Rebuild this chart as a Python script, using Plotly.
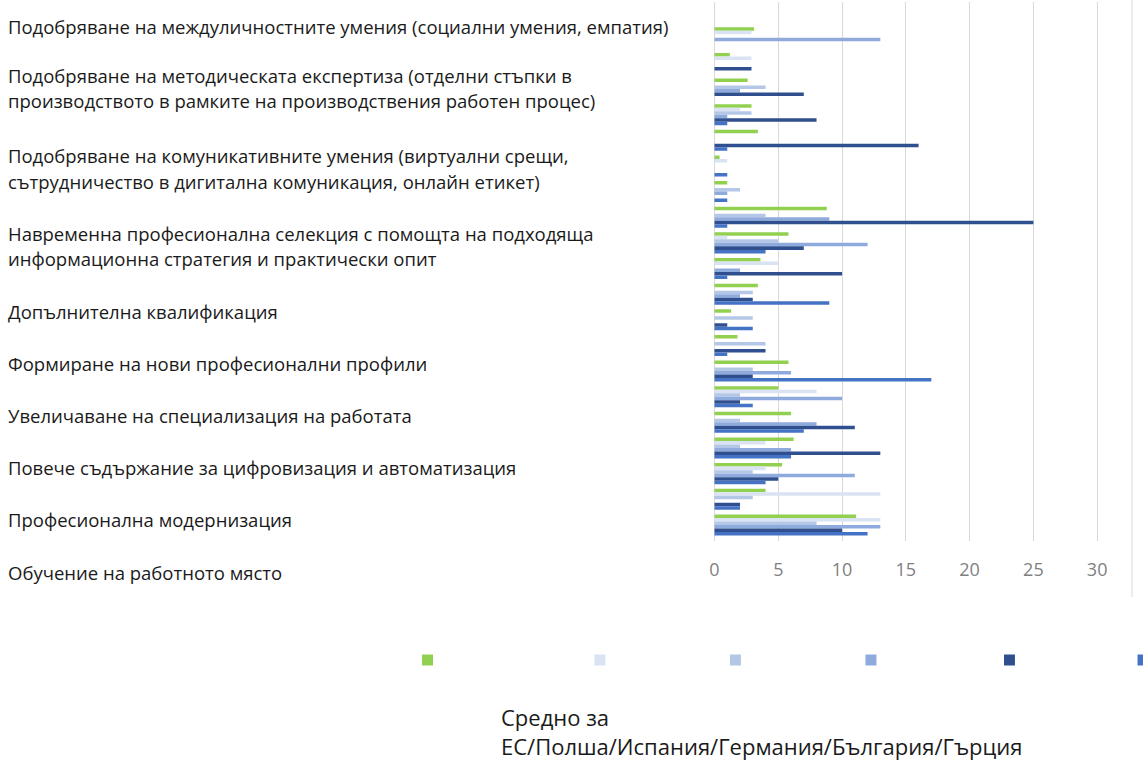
import plotly.graph_objects as go

# ---------------- data ----------------
categories = list(range(20))  # 20 bar groups (top to bottom)

series_names = ["", "", "", "", "", ""]
series_colors = ["#92D050", "#DAE3F3", "#B4C7E7", "#8FAADC", "#2F4F8F", "#4472C4"]

s1 = [3.1, 1.2, 2.6, 2.9, 3.4, 0.4, 1.0, 8.8, 5.8, 3.6, 3.4, 1.3, 1.8, 5.8, 5.0, 6.0, 6.2, 5.3, 4.0, 11.1]
s2 = [2.9, 2.9, 0, 2.0, 0, 1.0, 0, 0, 1.0, 5.0, 0, 0, 0, 0, 8.0, 0, 4.0, 4.0, 13.0, 13.0]
s3 = [0, 0, 4.0, 2.9, 0, 0, 2.0, 4.0, 5.0, 0, 3.0, 3.0, 4.0, 3.0, 2.0, 2.0, 2.0, 3.0, 3.0, 8.0]
s4 = [13.0, 0, 2.0, 1.0, 0, 0, 1.0, 9.0, 12.0, 2.0, 2.0, 0, 0, 6.0, 10.0, 8.0, 6.0, 11.0, 0, 13.0]
s5 = [0, 2.9, 7.0, 8.0, 16.0, 0, 0, 25.0, 7.0, 10.0, 3.0, 1.0, 4.0, 3.0, 2.0, 11.0, 13.0, 5.0, 2.0, 10.0]
s6 = [0, 0, 0, 1.0, 1.0, 1.0, 1.0, 1.0, 4.0, 1.0, 9.0, 3.0, 1.0, 17.0, 3.0, 7.0, 6.0, 4.0, 2.0, 12.0]
series_values = [s1, s2, s3, s4, s5, s6]

x_ticks = [0, 5, 10, 15, 20, 25, 30]

label_lines = [
    ["Подобряване на междуличностните умения (социални умения, емпатия)"],
    ["Подобряване на методическата експертиза (отделни стъпки в",
     "производството в рамките на производствения работен процес)"],
    ["Подобряване на комуникативните умения (виртуални срещи,",
     "сътрудничество в дигитална комуникация, онлайн етикет)"],
    ["Навременна професионална селекция с помощта на подходяща",
     "информационна стратегия и практически опит"],
    ["Допълнителна квалификация"],
    ["Формиране на нови професионални профили"],
    ["Увеличаване на специализация на работата"],
    ["Повече съдържание за цифровизация и автоматизация"],
    ["Професионална модернизация"],
    ["Обучение на работното място"],
]

bottom_title = ["Средно за", "ЕС/Полша/Испания/Германия/България/Гърция"]

# ---------------- layout helpers (pixels -> paper) ----------------
W, H = 1143, 769
px_per_unit = 12.8
x_zero_px = 713
grp_px = 25.64
grp0_center_px = 37.75
plot_top_px, plot_bot_px = 2, 541

def px(x):
    return x / W

def py(y):
    return 1 - y / H

x_lo, x_hi = -0.1, 32.7
x_dom = [px(x_zero_px + x_lo * px_per_unit), px(x_zero_px + x_hi * px_per_unit)]
y_top_val = (plot_top_px - grp0_center_px) / grp_px
y_bot_val = (plot_bot_px - grp0_center_px) / grp_px

fig = go.Figure()
for name, vals, col in zip(series_names, series_values, series_colors):
    fig.add_trace(go.Bar(
        y=categories, x=vals, orientation="h", name=name,
        marker=dict(color=col, line=dict(width=0)),
        hoverinfo="x",
    ))

# left category labels
label_line_px = [[27], [75, 101], [155, 181], [233, 259], [311], [363], [415], [467], [519], [572]]
annotations = []
for lines, ys in zip(label_lines, label_line_px):
    for t, yy in zip(lines, ys):
        annotations.append(dict(
            text=t, x=px(2), y=py(yy), xref="paper", yref="paper",
            xanchor="left", yanchor="middle", showarrow=False,
            font=dict(family="Open Sans", size=18.5, color="#1A1A1A"),
        ))

annotations.append(dict(
    text="<br>".join(bottom_title),
    x=px(497), y=py(731), xref="paper", yref="paper", align="left",
    xanchor="left", yanchor="middle", showarrow=False,
    font=dict(family="Open Sans", size=22, color="#1A1A1A"),
))

shapes = []
# chart-area right border
shapes.append(dict(type="line", xref="paper", yref="paper",
                   x0=px(1132), x1=px(1132), y0=py(0), y1=py(597),
                   line=dict(color="#D9D9D9", width=1)))
# legend keys (series have no names)
legend_centers = [425, 598, 734, 870, 1009, 1143]
for cx, col in zip(legend_centers, series_colors):
    shapes.append(dict(type="rect", xref="paper", yref="paper",
                       x0=px(cx - 5.5), x1=px(cx + 5.5), y0=py(665.5), y1=py(654.5),
                       fillcolor=col, line=dict(width=0)))

fig.update_layout(
    width=W, height=H,
    margin=dict(l=0, r=0, t=0, b=0),
    paper_bgcolor="white", plot_bgcolor="white",
    barmode="group", bargap=0.18, bargroupgap=0,
    showlegend=False,
    annotations=annotations, shapes=shapes,
    xaxis=dict(domain=x_dom, range=[x_lo, x_hi], tickvals=x_ticks,
               showgrid=True, gridcolor="#D9D9D9", gridwidth=1,
               zeroline=True, zerolinecolor="#D9D9D9", zerolinewidth=1,
               showline=False, ticks="outside", ticklen=12, tickcolor="rgba(0,0,0,0)",
               tickfont=dict(family="Open Sans", size=18, color="#7F7F7F")),
    yaxis=dict(domain=[py(plot_bot_px), py(plot_top_px)], range=[y_bot_val, y_top_val],
               showticklabels=False, showgrid=False, zeroline=False, showline=False),
)

fig.write_html("out.html", config={"displayModeBar": False},
               post_script="document.body.style.margin='0';document.body.style.overflow='hidden';")
